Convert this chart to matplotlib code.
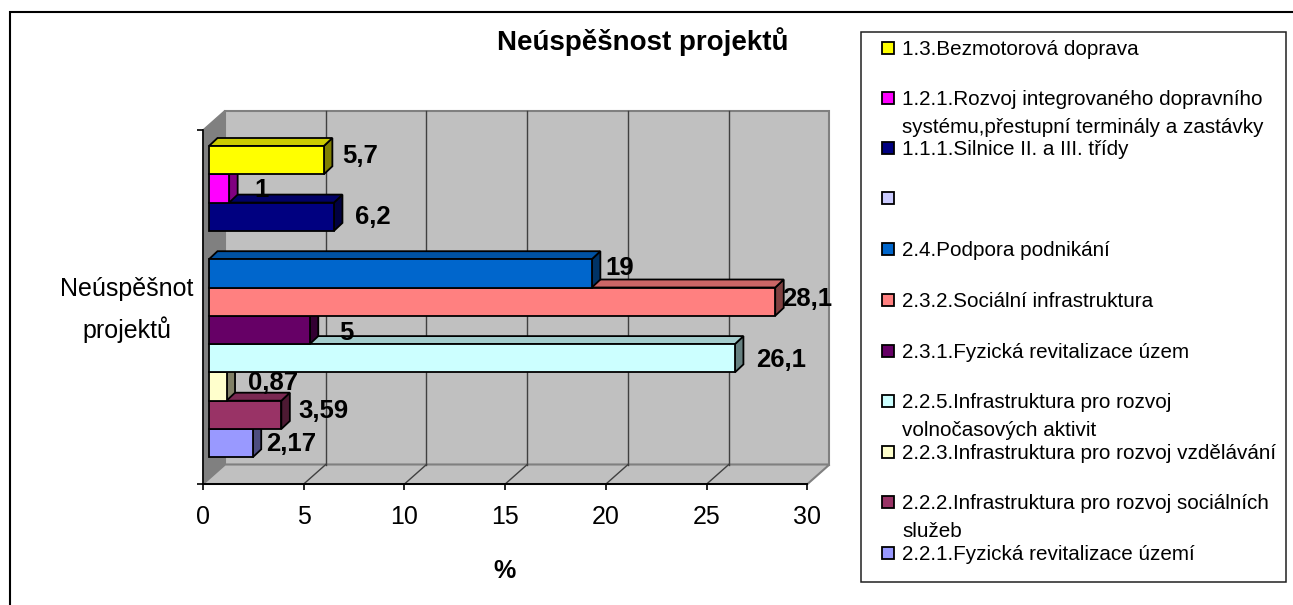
import numpy as np
import matplotlib
matplotlib.use("Agg")
import matplotlib.pyplot as plt
from matplotlib.patches import Polygon, Rectangle

# dati, dall'alto verso il basso (uno slot e' vuoto)
labels = ["1.3.Bezmotorová doprava",
          "1.2.1.Rozvoj integrovaného dopravního\nsystému,přestupní terminály a zastávky",
          "1.1.1.Silnice II. a III. třídy",
          "",
          "2.4.Podpora podnikání",
          "2.3.2.Sociální infrastruktura",
          "2.3.1.Fyzická revitalizace územ",
          "2.2.5.Infrastruktura pro rozvoj\nvolnočasových aktivit",
          "2.2.3.Infrastruktura pro rozvoj vzdělávání",
          "2.2.2.Infrastruktura pro rozvoj sociálních\nslužeb",
          "2.2.1.Fyzická revitalizace území"]
values = [5.7, 1, 6.2, np.nan, 19, 28.1, 5, 26.1, 0.87, 3.59, 2.17]
value_text = ["5,7", "1", "6,2", "", "19", "28,1", "5", "26,1", "0,87", "3,59", "2,17"]
colors = ["#FFFF00", "#FF00FF", "#000080", "#CCCCFF", "#0066CC", "#FF8080",
          "#660066", "#CCFFFF", "#FFFFCC", "#993366", "#9999FF"]
xticks = [0, 5, 10, 15, 20, 25, 30]
category = "Neúspěšnot\nprojektů"
title = "Neúspěšnost projektů"
xlabel = "%"

W, H = 1293, 605
plt.rcParams['font.family'] = ['Liberation Sans', 'DejaVu Sans']
fig = plt.figure(figsize=(W / 100, H / 100), dpi=100)

# sfondo in pixel per cornice e legenda
bg = fig.add_axes([0, 0, 1, 1])
bg.set_xlim(0, W)
bg.set_ylim(H, 0)
bg.axis("off")
bg.add_patch(Rectangle((10, 12), 1400, 700, fc="white", ec="black", lw=1.5, clip_on=True))
bg.add_patch(Rectangle((860.5, 32), 425.5, 550, fc="white", ec="#202020", lw=1.1))

# piano frontale: x 203-807.5, y 130-484 px
x0, x1, ytop, ybot = 203, 807.5, 130, 484
slot = 28.3
first = 146
ax = fig.add_axes([x0 / W, 1 - ybot / H, (x1 - x0) / W, (ybot - ytop) / H])
ax.set_xlim(0, 30)
ax.set_ylim((ybot - first) / slot, (ytop - first) / slot)
ax.patch.set_alpha(0)
ux = 30 / (x1 - x0)   # unita' per pixel
uy = 1 / slot
depth_x, depth_y = 22 * ux, 19.5 * uy
yb, yt = ax.get_ylim()
xr = ax.get_xlim()[1]

# pareti
ax.add_patch(Polygon([(depth_x, yt - depth_y), (xr + depth_x, yt - depth_y),
                      (xr + depth_x, yb - depth_y), (depth_x, yb - depth_y)],
                     fc="#C0C0C0", ec="#808080", lw=1.5, clip_on=False, zorder=1))
ax.add_patch(Polygon([(0, yt), (depth_x, yt - depth_y), (depth_x, yb - depth_y), (0, yb)],
                     fc="#808080", ec="#808080", lw=1, clip_on=False, zorder=1))
ax.add_patch(Polygon([(0, yb), (depth_x, yb - depth_y), (xr + depth_x, yb - depth_y), (xr, yb)],
                     fc="#C0C0C0", ec="#808080", lw=1.5, clip_on=False, zorder=1))
for t in xticks[1:-1]:
    ax.plot([t + depth_x, t + depth_x], [yb - depth_y, yt - depth_y], color="#404040", lw=1, zorder=2, clip_on=False)
for t in xticks[1:-1]:
    ax.plot([t, t + depth_x], [yb, yb - depth_y], color="#404040", lw=1, zorder=2, clip_on=False)

# barre 3D: faccia frontale con barh, lati con poligoni piu' scuri
def darker(c, f):
    return tuple(v * f for v in matplotlib.colors.to_rgb(c))

shift = 6 * ux
bx, by = 8.5 * ux, 8 * uy
y_pos = np.arange(len(values))
for i in y_pos[::-1]:
    v = values[i]
    if np.isnan(v):
        continue
    z = 3 + (len(values) - i) * 0.01
    ax.barh(i + 0.5, v, height=1, left=shift, color=colors[i], edgecolor="black", lw=1.3, zorder=z + 0.002)
    r = shift + v
    ax.add_patch(Polygon([(r, i), (r + bx, i - by), (r + bx, i + 1 - by), (r, i + 1)],
                         fc=darker(colors[i], 0.5), ec="black", lw=1.3, zorder=z, clip_on=False))
    ax.add_patch(Polygon([(shift, i), (shift + bx, i - by), (r + bx, i - by), (r, i)],
                         fc=darker(colors[i], 0.8), ec="black", lw=1.3, zorder=z + 0.001, clip_on=False))

# etichette dei valori: Excel le piazza un po' a caso, scostamenti in pixel
label_dx = [10, 17, 13, 0, 5, -2, 21, 13, 13, 9, 5]
label_dy = [3, 9, 7, 0, 2, 4, 10, 9, 3, 3, 8]
for i, (v, s) in enumerate(zip(values, value_text)):
    if s:
        ax.annotate(s, (shift + v + bx, i + 0.5),
                    xytext=(label_dx[i], -label_dy[i]), textcoords="offset pixels",
                    fontsize=18.5, fontweight="bold", va="baseline", ha="left", zorder=10,
                    annotation_clip=False)

# assi
for s in ["top", "right"]:
    ax.spines[s].set_visible(False)
ax.spines["left"].set_linewidth(1.2)
ax.spines["bottom"].set_linewidth(1.4)
ax.spines["left"].set_zorder(2.5)
ax.spines["bottom"].set_zorder(2.5)
ax.set_xticks(xticks)
ax.set_xticklabels([str(t) for t in xticks], fontsize=18)
ax.tick_params(axis="x", length=4, width=1.2, pad=11)
ax.set_yticks([yb, yt])
ax.set_yticklabels(["", ""])
ax.tick_params(axis="y", length=4.3, width=1.2)

bg.text(127, 310, category, fontsize=18, ha="center", va="center", linespacing=1.7)
bg.text(643, 41.5, title, fontsize=20, fontweight="bold", ha="center", va="center")
bg.text(505, 571, xlabel, fontsize=18, fontweight="bold", ha="center", va="center")

# legenda a mano per avere le righe sovrapposte come nell'originale
leg_y = [48, 98, 148, 198, 249, 300, 351, 401, 452, 502, 553]
for lab, c, y in zip(labels, colors, leg_y):
    bg.add_patch(Rectangle((881.5, y - 6), 12, 12, fc=c, ec="black", lw=1.3))
    for k, line in enumerate(lab.split("\n")):
        bg.text(902, y + 7 + k * 28, line, fontsize=14.85, va="baseline", ha="left")

fig.savefig("out.png", dpi=100)
